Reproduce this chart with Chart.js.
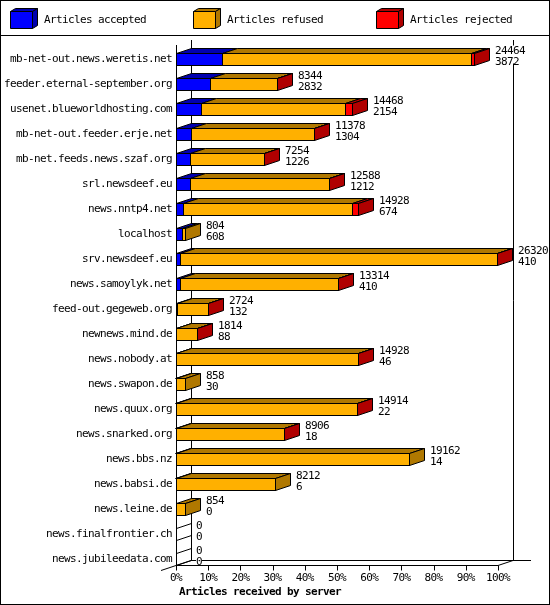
<!DOCTYPE html>
<html>
<head>
<meta charset="utf-8">
<title>Articles received by server</title>
<script src="https://cdn.jsdelivr.net/npm/chart.js@4/dist/chart.umd.min.js"></script>
<style>
  html, body { margin: 0; padding: 0; background: #fff; }
  canvas { display: block; }
</style>
</head>
<body>
<canvas id="chart" width="550" height="605"></canvas>
<script>
const servers = [
  'mb-net-out.news.weretis.net', 'feeder.eternal-september.org', 'usenet.blueworldhosting.com',
  'mb-net-out.feeder.erje.net', 'mb-net.feeds.news.szaf.org', 'srl.newsdeef.eu', 'news.nntp4.net',
  'localhost', 'srv.newsdeef.eu', 'news.samoylyk.net', 'feed-out.gegeweb.org', 'newnews.mind.de',
  'news.nobody.at', 'news.swapon.de', 'news.quux.org', 'news.snarked.org', 'news.bbs.nz',
  'news.babsi.de', 'news.leine.de', 'news.finalfrontier.ch', 'news.jubileedata.com'
];
const totals = [24464, 8344, 14468, 11378, 7254, 12588, 14928, 804, 26320, 13314, 2724, 1814, 14928, 858, 14914, 8906, 19162, 8212, 854, 0, 0];
const accepted = [3872, 2832, 2154, 1304, 1226, 1212, 674, 608, 410, 410, 132, 88, 46, 30, 22, 18, 14, 6, 0, 0, 0];
const refused = [20312, 5482, 11744, 10044, 6008, 11346, 13764, 196, 25870, 12874, 2582, 1716, 14872, 828, 14878, 8878, 19148, 8206, 854, 0, 0];
const rejected = [280, 30, 570, 30, 20, 30, 490, 0, 40, 30, 10, 10, 10, 0, 14, 10, 0, 0, 0, 0, 0];
const fullScale = 26320;

const FONT = '"DejaVu Sans Mono", monospace';
const FONT_SIZE = 11;
const DEPTH_X = 15;
const DEPTH_Y = 5;
const darker = { accepted: '#0000b0', refused: '#b07800', rejected: '#b00000' };

function poly(ctx, pts, fill) {
  ctx.beginPath();
  pts.forEach((p, i) => i ? ctx.lineTo(p[0], p[1]) : ctx.moveTo(p[0], p[1]));
  ctx.closePath();
  if (fill) {
    ctx.fillStyle = fill;
    ctx.fill();
  }
  ctx.strokeStyle = '#000';
  ctx.lineWidth = 1;
  ctx.stroke();
}

function line(ctx, x1, y1, x2, y2) {
  ctx.beginPath();
  ctx.moveTo(x1, y1);
  ctx.lineTo(x2, y2);
  ctx.strokeStyle = '#000';
  ctx.lineWidth = 1;
  ctx.stroke();
}

const bars3d = {
  id: 'bars3d',
  // snap bars to whole pixels so the borders stay crisp
  afterDatasetsUpdate(chart) {
    const left = chart.scales.x.left;
    chart.data.datasets.forEach((ds, d) => {
      chart.getDatasetMeta(d).data.forEach(el => {
        const same = el.x === el.base;
        el.x = Math.round(el.x);
        el.base = Math.round(el.base);
        if (!same && el.base > left) el.base -= 1;
      });
    });
  },
  // the original text is a 6px wide fixed font, a bit taller than DejaVu at 10px
  beforeDraw(chart) {
    chart.ctx.letterSpacing = '-0.62px';
  },
  beforeDatasetsDraw(chart) {
    const ctx = chart.ctx;
    const x = chart.scales.x;
    const left = x.getPixelForValue(0);
    const right = x.getPixelForValue(fullScale);
    const bottom = 565.5;
    ctx.save();

    // walls and floor
    line(ctx, left + 0.5, 45, left + 0.5, bottom);
    line(ctx, left + DEPTH_X + 0.5, 40, left + DEPTH_X + 0.5, bottom - DEPTH_Y);
    line(ctx, right + DEPTH_X + 0.5, 40, right + DEPTH_X + 0.5, bottom - DEPTH_Y);
    line(ctx, left + DEPTH_X, bottom - DEPTH_Y, 531, bottom - DEPTH_Y);
    line(ctx, left, bottom, right, bottom);
    line(ctx, right, bottom, right + DEPTH_X, bottom - DEPTH_Y);
    line(ctx, 161, bottom + 5, left + DEPTH_X, bottom - DEPTH_Y);
    x.ticks.forEach(t => {
      const px = Math.round(x.getPixelForValue(t.value)) + 0.5;
      line(ctx, px, bottom, px, bottom + 5);
    });

    // top and side faces of each bar
    const keys = ['accepted', 'refused', 'rejected'];
    servers.forEach((s, i) => {
      let end = null;
      let top = 0;
      let bot = 0;
      chart.data.datasets.forEach((ds, d) => {
        const el = chart.getDatasetMeta(d).data[i];
        top = el.y - el.height / 2 + 0.5;
        bot = el.y + el.height / 2 - 0.5;
        if (ds.data[i] === 0) return;
        const x0 = el.base + 0.5;
        const x1 = el.x - 0.5;
        poly(ctx, [[x0, top], [x0 + DEPTH_X, top - DEPTH_Y], [x1 + DEPTH_X, top - DEPTH_Y], [x1, top]], darker[keys[d]]);
        end = x1;
      });
      if (end === null) {
        // empty row: only the edges of the flat bar on the left wall
        line(ctx, left + 0.5, top, left + DEPTH_X + 0.5, top - DEPTH_Y);
        line(ctx, left + 0.5, bot, left + DEPTH_X + 0.5, bot - DEPTH_Y);
        return;
      }
      const sideColor = rejected[i] > 0 ? darker.rejected : darker.refused;
      poly(ctx, [[end, top], [end + DEPTH_X, top - DEPTH_Y], [end + DEPTH_X, bot - DEPTH_Y], [end, bot]], sideColor);
    });
    ctx.restore();
  },
  afterDatasetsDraw(chart) {
    const ctx = chart.ctx;
    const x = chart.scales.x;
    const y = chart.scales.y;
    ctx.save();
    ctx.font = FONT_SIZE + 'px ' + FONT;
    ctx.textBaseline = 'middle';
    ctx.textAlign = 'left';

    // value labels next to the bars
    servers.forEach((s, i) => {
      const c = y.getPixelForValue(i);
      const lx = Math.round(x.getPixelForValue(totals[i])) + DEPTH_X + 5;
      const a = String(totals[i]);
      const b = String(accepted[i]);
      ctx.fillStyle = '#fff';
      ctx.fillRect(lx, c - 14, Math.max(a.length, b.length) * 6, 18);
      ctx.fillStyle = '#000';
      ctx.fillText(a, lx, c - 8.5);
      ctx.fillText(b, lx, c + 2.5);
    });

    // axis title
    ctx.font = 'bold ' + FONT_SIZE + 'px ' + FONT;
    ctx.fillText('Articles received by server', 179, 592);

    // legend strip
    ctx.font = FONT_SIZE + 'px ' + FONT;
    line(ctx, 0, 35.5, 550, 35.5);
    const legendX = [10, 193, 376];
    const keys = ['accepted', 'refused', 'rejected'];
    chart.data.datasets.forEach((ds, d) => {
      const lx = legendX[d] + 0.5;
      poly(ctx, [[lx, 11.5], [lx + 5, 8.5], [lx + 27, 8.5], [lx + 22, 11.5]], darker[keys[d]]);
      poly(ctx, [[lx + 22, 11.5], [lx + 27, 8.5], [lx + 27, 25.5], [lx + 22, 28.5]], darker[keys[d]]);
      poly(ctx, [[lx, 11.5], [lx + 22, 11.5], [lx + 22, 28.5], [lx, 28.5]], ds.backgroundColor);
      ctx.fillStyle = '#000';
      ctx.fillText(ds.label, legendX[d] + 34, 20.5);
    });

    // outer frame
    ctx.strokeStyle = '#000';
    ctx.lineWidth = 1;
    ctx.strokeRect(0.5, 0.5, 549, 604);
    ctx.restore();
  }
};

function barSet(label, data, color) {
  return {
    label: label,
    data: data,
    backgroundColor: color,
    borderColor: '#000',
    borderWidth: 1,
    borderSkipped: false,
    inflateAmount: 0,
    barThickness: 13
  };
}

new Chart(document.getElementById('chart'), {
  type: 'bar',
  data: {
    labels: servers,
    datasets: [
      barSet('Articles accepted', accepted, '#0000ff'),
      barSet('Articles refused', refused, '#ffb000'),
      barSet('Articles rejected', rejected, '#ff0000')
    ]
  },
  plugins: [bars3d],
  options: {
    indexAxis: 'y',
    responsive: false,
    animation: false,
    devicePixelRatio: 1,
    layout: { padding: { top: 47, right: 52, left: 0, bottom: 0 } },
    plugins: { legend: { display: false }, tooltip: { enabled: false } },
    scales: {
      x: {
        stacked: true,
        min: 0,
        max: fullScale,
        border: { display: false },
        grid: { display: false, drawTicks: false },
        afterFit(scale) { scale.height = 33; },
        ticks: {
          stepSize: 2632,
          color: '#000',
          padding: 0,
          maxRotation: 0,
          autoSkip: false,
          font: { family: FONT, size: FONT_SIZE },
          callback: v => Math.round(v / fullScale * 100) + '%'
        }
      },
      y: {
        stacked: true,
        border: { display: false },
        grid: { display: false, drawTicks: false },
        afterFit(scale) { scale.width = 176; },
        ticks: {
          color: '#000',
          padding: 4,
          autoSkip: false,
          font: { family: FONT, size: FONT_SIZE }
        }
      }
    }
  }
});
</script>
</body>
</html>
